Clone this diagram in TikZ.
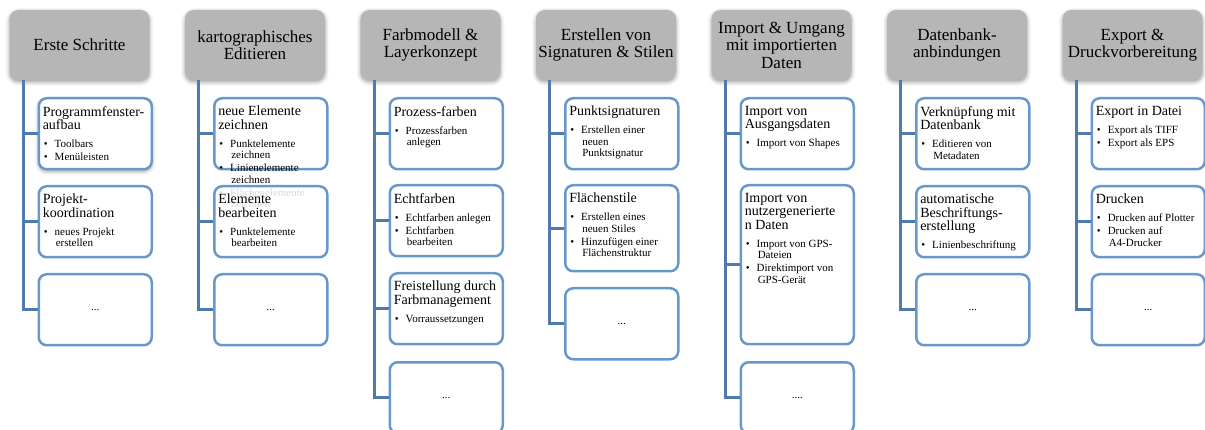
\documentclass[tikz,border=0pt]{standalone}
\usepackage{fontspec}
\setmainfont{Liberation Serif}
\usetikzlibrary{positioning, calc, shadows.blur}
\tikzset{
  kopf/.style={rectangle, rounded corners=9pt, minimum width=140pt, minimum height=70pt, align=center, fill=kopfgrau, inner sep=0pt, font=\fontsize{17}{17.5}\selectfont, blur shadow={shadow xshift=0pt, shadow yshift=-2pt, shadow blur radius=4pt, shadow opacity=40}},
  feld/.style={rectangle, rounded corners=8pt, draw=rahmenblau, line width=2.5pt, fill=white, fill opacity=0.85, text opacity=1, minimum width=113pt, inner xsep=4pt, inner ysep=8pt, anchor=north west, font=\fontsize{11}{11.5}\selectfont},
  linie/.style={linienblau, line width=3pt}
}
\definecolor{kopfgrau}{RGB}{182,182,182}
\definecolor{rahmenblau}{RGB}{104,151,204}
\definecolor{linienblau}{RGB}{79,122,173}
% Titel + Stichpunkte in einem Feld (oben ausgerichtet)
\newcommand{\inhalt}[3]{\parbox[t][#1][t]{105pt}{\raggedright{\fontsize{14}{13.5}\selectfont #2\par}\vspace{5pt}#3}}
\newcommand{\pkt}[1]{\par\vspace{1.5pt}\begingroup\let\\\newline\hangindent=13pt\hangafter=1\noindent\makebox[12pt][l]{\hspace{1pt}\textbullet}#1\par\endgroup}

\begin{document}
\begin{tikzpicture}[x=1pt, y=-1pt]
        \useasboundingbox (0,0) rectangle (1205,430);

        % 1. Kopfzeilen
        \node[kopf] (k1) at (79.5,45) {Erste Schritte};
        \node[kopf] (k2) at (255,45) {kartographisches\\Editieren};
        \node[kopf] (k3) at (430.5,45) {Farbmodell \&\\Layerkonzept};
        \node[kopf] (k4) at (606,45) {Erstellen von\\Signaturen \& Stilen};
        \node[kopf] (k5) at (781.5,45) {Import \& Umgang\\mit importierten\\Daten};
        \node[kopf] (k6) at (957,45) {Datenbank-\\anbindungen};
        \node[kopf] (k7) at (1132.5,45) {Export \&\\Druckvorbereitung};

        % 2. Felder Spalte 1
        \node[feld, minimum height=71pt, fill opacity=1, blur shadow={shadow xshift=0pt, shadow yshift=-2pt, shadow blur radius=4pt}] (f11) at (37.5,97) {\inhalt{55pt}{Programmfenster-\\aufbau}{\pkt{Toolbars}\pkt{Menüleisten}}};
        \node[feld, minimum height=71pt] (f12) at (37.5,185) {\inhalt{55pt}{Projekt-\\koordination}{\pkt{neues Projekt\\erstellen}}};
        \node[feld, minimum height=71pt] (f13) at (37.5,273) {...};

        % Spalte 2
        \node[feld, minimum height=71pt] (f21) at (213,97) {\inhalt{55pt}{neue Elemente\\zeichnen}{\pkt{Punktelemente\\zeichnen}\pkt{Linienelemente\\zeichnen}\pkt{Flächenelemente\\zeichnen}}};
        \node[feld, minimum height=71pt] (f22) at (213,185) {\inhalt{55pt}{Elemente\\bearbeiten}{\pkt{Punktelemente\\bearbeiten}}};
        \node[feld, minimum height=71pt] (f23) at (213,273) {...};

        % Spalte 3
        \node[feld, minimum height=71pt] (f31) at (388.5,97) {\inhalt{55pt}{Prozess-farben}{\pkt{Prozessfarben\\anlegen}}};
        \node[feld, minimum height=71pt] (f32) at (388.5,184) {\inhalt{55pt}{Echtfarben}{\pkt{Echtfarben anlegen}\pkt{Echtfarben\\bearbeiten}}};
        \node[feld, minimum height=71pt] (f33) at (388.5,272) {\inhalt{55pt}{Freistellung durch\\Farbmanagement}{\pkt{Vorraussetzungen}}};
        \node[feld, minimum height=71pt] (f34) at (388.5,361) {...};

        % Spalte 4
        \node[feld, minimum height=71pt] (f41) at (564,97) {\inhalt{55pt}{Punktsignaturen}{\pkt{Erstellen einer\\neuen\\Punktsignatur}}};
        \node[feld, minimum height=86pt] (f42) at (564,184) {\inhalt{70pt}{Flächenstile}{\pkt{Erstellen eines\\neuen Stiles}\pkt{Hinzufügen einer\\Flächenstruktur}}};
        \node[feld, minimum height=71pt] (f43) at (564,287) {...};

        % Spalte 5
        \node[feld, minimum height=71pt] (f51) at (739.5,97) {\inhalt{55pt}{Import von\\Ausgangsdaten}{\pkt{Import von Shapes}}};
        \node[feld, minimum height=159pt] (f52) at (739.5,184) {\inhalt{143pt}{Import von\\nutzergenerierte\\n Daten}{\pkt{Import von GPS-\\Dateien}\pkt{Direktimport von\\GPS-Gerät}}};
        \node[feld, minimum height=71pt] (f53) at (739.5,361) {....};

        % Spalte 6
        \node[feld, minimum height=71pt] (f61) at (915,97) {\inhalt{55pt}{Verknüpfung mit\\Datenbank}{\pkt{Editieren von\\Metadaten}}};
        \node[feld, minimum height=71pt] (f62) at (915,185) {\inhalt{55pt}{automatische\\Beschriftungs-\\erstellung}{\pkt{Linienbeschriftung}}};
        \node[feld, minimum height=71pt] (f63) at (915,273) {...};

        % Spalte 7
        \node[feld, minimum height=71pt] (f71) at (1090.5,97) {\inhalt{55pt}{Export in Datei}{\pkt{Export als TIFF}\pkt{Export als EPS}}};
        \node[feld, minimum height=71pt] (f72) at (1090.5,185) {\inhalt{55pt}{Drucken}{\pkt{Drucken auf Plotter}\pkt{Drucken auf\\A4-Drucker}}};
        \node[feld, minimum height=71pt] (f73) at (1090.5,273) {...};

        % 3. Verbindungslinien
        \foreach \k/\n in {1/3, 2/3, 3/4, 4/3, 5/3, 6/3, 7/3} {
            \draw[linie] ([xshift=14pt]k\k.south west) coordinate (s\k) |- (f\k\n.west);
            \foreach \i in {1,...,\n}
                \draw[linie] (s\k |- f\k\i.west) -- (f\k\i.west);
        }

\end{tikzpicture}
\end{document}
